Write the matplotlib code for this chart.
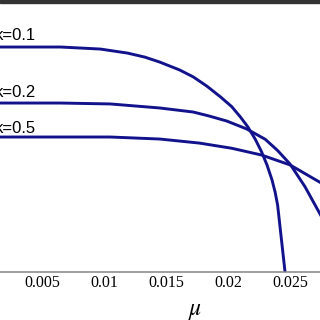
import matplotlib
matplotlib.use("Agg")
import matplotlib.pyplot as plt
from matplotlib.patches import Rectangle

# values (y in arbitrary units, flat k=0.1 level = 1)
mu_k01 = [0.0, 0.0065, 0.0097, 0.0119, 0.0133, 0.0145, 0.0161, 0.0172, 0.0183,
          0.0194, 0.0203, 0.0210, 0.0216, 0.0222, 0.0227, 0.02315, 0.02355,
          0.0238, 0.0240, 0.0246]
y_k01 = [1.0, 1.0, 0.991, 0.973, 0.955, 0.933, 0.898, 0.867, 0.826,
         0.778, 0.735, 0.689, 0.645, 0.590, 0.535, 0.475, 0.409,
         0.355, 0.298, 0.0]

mu_k02 = [0.0, 0.0065, 0.0105, 0.0145, 0.0172, 0.0185, 0.0199, 0.0215,
          0.0230, 0.0240, 0.0250, 0.0262, 0.0275]
y_k02 = [0.751, 0.751, 0.747, 0.729, 0.711, 0.693, 0.671, 0.636,
         0.590, 0.540, 0.480, 0.380, 0.250]

mu_k05 = [0.0, 0.0065, 0.0105, 0.0145, 0.0177, 0.0203, 0.0227, 0.0250, 0.0275]
y_k05 = [0.600, 0.600, 0.600, 0.591, 0.573, 0.550, 0.520, 0.476, 0.396]

labels = ["k=0.1", "k=0.2", "k=0.5"]
label_y = [1.053, 0.796, 0.64]

xticks = [0.005, 0.01, 0.015, 0.02, 0.025]
xtick_labels = ["0.005", "0.01", "0.015", "0.02", "0.025"]

line_color = '#12128c'

fig = plt.figure(figsize=(3.2, 3.2), dpi=100)
ax = fig.add_axes([0, 0.15, 1, 0.85])

ax.plot(mu_k01, y_k01, color=line_color, lw=2.1)
ax.plot(mu_k02, y_k02, color=line_color, lw=2.1)
ax.plot(mu_k05, y_k05, color=line_color, lw=2.1)

for lab, yy in zip(labels, label_y):
    ax.text(0.00452, yy, lab, ha='right', va='center', fontsize=12,
            family='Liberation Sans', clip_on=False)

ax.set_xlim(0.001613, 0.027419)
ax.set_ylim(0, 1.209)
ax.set_xticks(xticks)
ax.set_xticklabels(xtick_labels, family='Liberation Serif', fontsize=11.5)
ax.set_yticks([])
ax.tick_params(axis='x', length=0, pad=2.5)
for s in ['top', 'left', 'right']:
    ax.spines[s].set_visible(False)
ax.spines['bottom'].set_color('#858585')
ax.spines['bottom'].set_linewidth(1.1)

fig.text(195 / 320, 1 - 310 / 320, r'$\mu$', ha='center', va='center',
         fontsize=17, math_fontfamily='stix')

# dark border strip at the top of the crop
fig.patches.append(Rectangle((0, 1 - 2.5 / 320), 1, 2.5 / 320,
                             transform=fig.transFigure, color='#333333'))

fig.savefig("out.png", dpi=100)
